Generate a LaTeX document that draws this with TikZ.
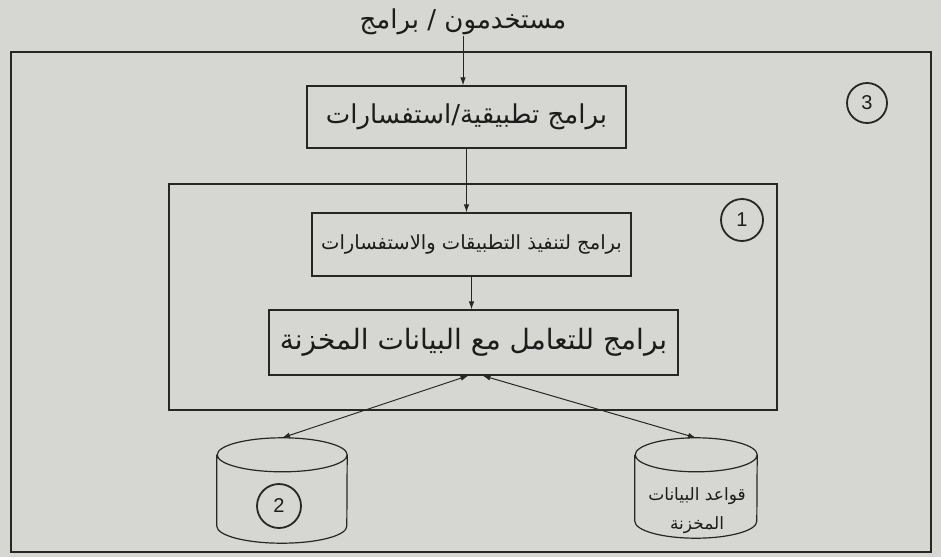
\documentclass[tikz,border=0pt]{standalone}
\usepackage{fontspec}
\setmainfont{Liberation Sans}
\newfontfamily\arabicfont[Script=Arabic]{DejaVu Sans}
\TeXXeTstate=1
\usetikzlibrary{arrows.meta,calc}
\definecolor{paper}{RGB}{214,214,210}
\definecolor{ink}{RGB}{38,38,38}
\definecolor{textink}{RGB}{28,28,28}
\tikzset{
  frame/.style={draw=ink, line width=1.2pt},
  prog/.style={draw=ink, line width=1.2pt, inner sep=0pt, text=textink},
  badge/.style={circle, draw=ink, line width=1.8pt, minimum size=42pt, inner sep=0pt, font=\fontsize{20}{20}\selectfont, text=textink},
  flow/.style={draw=ink, line width=1pt, -{Latex[length=8pt,width=5.5pt]}},
  both/.style={draw=ink, line width=1pt, {Latex[length=8pt,width=5.5pt]}-{Latex[length=8pt,width=5.5pt]}},
  dbbox/.style={draw=none, inner sep=0pt},
}
\begin{document}
\begin{tikzpicture}[x=1pt,y=-1pt]
\fill[paper] (0,0) rectangle (941,557);
\useasboundingbox (0,0) rectangle (941,557);
% outer frame (3)
\node[frame, minimum width=920pt, minimum height=500pt] (outer) at (471,302) {};
\node[badge, minimum size=40pt] (n3) at (867,103) {3};
% inner frame (1)
\node[frame, minimum width=608pt, minimum height=226pt] (inner) at (473,297) {};
\node[badge, minimum size=42pt] (n1) at (742,220) {1};
% top label
\node[text=textink, font=\arabicfont\fontsize{26}{26}\selectfont, inner sep=1pt] (users) at (463,22) {\beginR مستخدمون / برامج\endR};
% boxes
\node[prog, minimum width=319pt, minimum height=62pt, font=\arabicfont\fontsize{26}{26}\selectfont] (apps) at (466.5,117) {\beginR برامج تطبيقية/استفسارات\endR};
\node[prog, minimum width=319pt, minimum height=63pt, font=\arabicfont\fontsize{19.5}{19.5}\selectfont] (exec) at (471.5,244.5) {\beginR برامج لتنفيذ التطبيقات والاستفسارات\endR};
\node[prog, minimum width=409pt, minimum height=65pt, font=\arabicfont\fontsize{28}{28}\selectfont] (data) at (473.5,342.5) {\beginR برامج للتعامل مع البيانات المخزنة\endR};
% cylinders
\node[dbbox, minimum width=130pt, minimum height=105pt] (db2) at (282,490.5) {};
\draw[frame] ([yshift=-17pt]db2.north west) -- ([yshift=17pt]db2.south west)
  arc[start angle=180, end angle=360, x radius=65pt, y radius=17pt]
  -- ([yshift=-17pt]db2.north east)
  arc[start angle=0, end angle=360, x radius=65pt, y radius=17pt];
\node[badge, minimum size=44pt] (n2) at (279,506) {2};
\node[dbbox, minimum width=122pt, minimum height=100pt] (dbs) at (696,488) {};
\draw[frame] ([yshift=-17pt]dbs.north west) -- ([yshift=17pt]dbs.south west)
  arc[start angle=180, end angle=360, x radius=61pt, y radius=17pt]
  -- ([yshift=-17pt]dbs.north east)
  arc[start angle=0, end angle=360, x radius=61pt, y radius=17pt];
\node[text=textink, align=center, font=\arabicfont\fontsize{17}{29}\selectfont] (dbslabel) at (697,511) {\beginR قواعد البيانات\endR\\\beginR المخزنة\endR};
% connectors
\draw[flow] (users.south) -- (users.south |- apps.north);
\draw[flow] (apps.south) -- (apps.south |- exec.north);
\draw[flow] (exec.south) -- (exec.south |- data.north);
\coordinate (dl) at ([xshift=-5pt]data.south);
\coordinate (dr) at ([xshift=9pt]data.south);
\draw[both] (db2.north) -- (dl);
\draw[both] (dbs.north) -- (dr);
\end{tikzpicture}
\end{document}
